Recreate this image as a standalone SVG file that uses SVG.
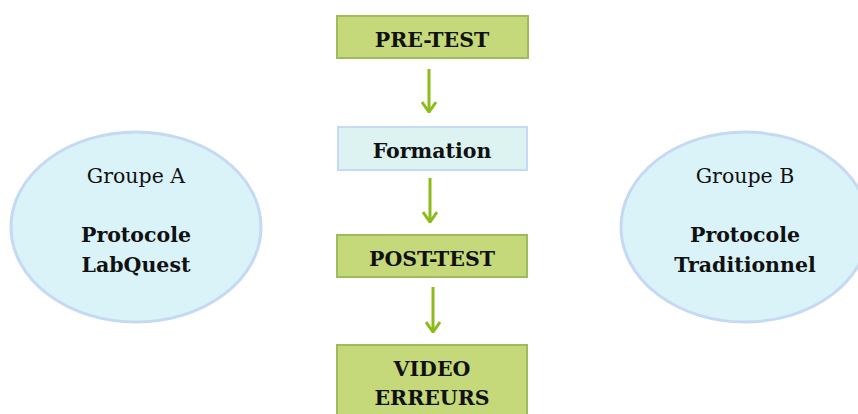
<svg xmlns="http://www.w3.org/2000/svg" width="858" height="414" viewBox="0 0 858 414">
<defs>
<style>
.box{fill:#c5d97b;stroke:#9fbc5a;stroke-width:2}
.boxb{fill:#ddf3f1;stroke:#c6daf5;stroke-width:2}
.ell{fill:#daf3f8;stroke:#c6d9f4;stroke-width:3}
.t{font-family:"DejaVu Serif","Liberation Serif",serif;font-size:20.5px;fill:#111;text-anchor:middle}
.b{font-weight:bold}
.arr{stroke:#8cbb1a;stroke-width:3;fill:none}
</style>
<marker id="ah" viewBox="0 0 12 16" refX="11" refY="8" markerWidth="12" markerHeight="16" markerUnits="userSpaceOnUse" orient="auto">
<path d="M1,1 L11,8 L1,15" fill="none" stroke="#8cbb1a" stroke-width="3"/>
</marker>
</defs>
<rect width="858" height="414" fill="#fff"/>
<g id="groupeA">
<ellipse class="ell" cx="136" cy="227" rx="125" ry="95"/>
<text class="t" x="136" y="183">Groupe A</text>
<text class="t b" x="136" y="242">Protocole</text>
<text class="t b" x="136" y="272">LabQuest</text>
</g>
<g id="groupeB">
<ellipse class="ell" cx="745" cy="227" rx="124" ry="95"/>
<text class="t" x="745" y="183">Groupe B</text>
<text class="t b" x="745" y="242">Protocole</text>
<text class="t b" x="745" y="272">Traditionnel</text>
</g>
<g id="pretest">
<rect class="box" x="337" y="16" width="191" height="42"/>
<text class="t b" x="432" y="47">PRE-TEST</text>
</g>
<g id="formation">
<rect class="boxb" x="338" y="127" width="189" height="43"/>
<text class="t b" x="432" y="158">Formation</text>
</g>
<g id="posttest">
<rect class="box" x="337" y="235" width="190" height="42"/>
<text class="t b" x="432" y="266">POST-TEST</text>
</g>
<g id="video">
<rect class="box" x="337" y="345" width="190" height="80"/>
<text class="t b" x="432" y="376">VIDEO</text>
<text class="t b" x="432" y="405">ERREURS</text>
</g>
<g id="connectors">
<line class="arr" x1="429" y1="69" x2="429" y2="112" marker-end="url(#ah)"/>
<line class="arr" x1="430" y1="178" x2="430" y2="222" marker-end="url(#ah)"/>
<line class="arr" x1="433" y1="287" x2="433" y2="332" marker-end="url(#ah)"/>
</g>
</svg>
